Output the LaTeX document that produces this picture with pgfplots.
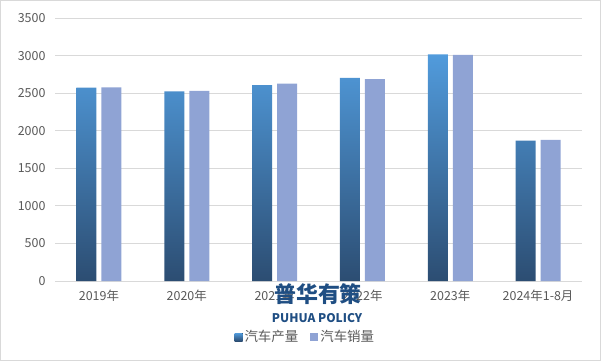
\documentclass[border=0pt]{standalone}
\usepackage{pgfplots}
\pgfplotsset{compat=1.18}
\usepackage{fontspec}
\setmainfont{Noto Sans CJK SC}
\definecolor{tickgray}{HTML}{595959}
\definecolor{gridgray}{HTML}{D9D9D9}
\definecolor{bluetop}{HTML}{519BDC}
\definecolor{bluebot}{HTML}{2C4D72}
\definecolor{lav}{HTML}{8FA3D4}
\definecolor{wm}{HTML}{1F4E83}
\begin{document}
\begin{tikzpicture}[x=1bp,y=1bp]
\useasboundingbox (0,0) rectangle (601,361);
\draw[gridgray,line width=1bp] (0.5,0.5) rectangle (600.5,360.5);
\begin{axis}[
  at={(55bp,80bp)}, anchor=south west,
  width=527bp, height=263bp, scale only axis,
  ymin=0, ymax=3500, ytick distance=500,
  xmin=-0.5, xmax=5.5,
  xtick=data,
  xticklabels={2019年,2020年,2021年,2022年,2023年,2024年1-8月},
  ybar=5bp, bar width=20bp,
  axis line style={draw=none},
  major tick length=0pt,
  ymajorgrids, grid style={gridgray, line width=0.8bp},
  tick label style={text=tickgray, font=\fontsize{12.5}{14}\selectfont},
  /pgf/number format/assume math mode=true,
  /pgf/number format/1000 sep={},
  yticklabel style={xshift=-6bp},
  xticklabel style={yshift=-5bp},
  legend columns=2,
  legend style={draw=none, fill=none, at={(0.475,-0.213)}, anchor=center,
    font=\fontsize{13.5}{15}\selectfont\color{tickgray},
    /tikz/every even column/.append style={column sep=10bp}},
  legend image code/.code={\fill[#1] (0bp,-4bp) rectangle (8bp,4bp);},
]
\addplot[draw=none, top color=bluetop, bottom color=bluebot] coordinates {(0,2572) (1,2523) (2,2608) (3,2702) (4,3016) (5,1868)};
\addplot[draw=none, fill=lav] coordinates {(0,2577) (1,2531) (2,2628) (3,2686) (4,3009) (5,1877)};
\legend{汽车产量,汽车销量}
\end{axis}
\node[text=wm, font=\fontsize{22}{24}\selectfont\bfseries] at (318,67) {普华有策};
\node[text=wm, font=\fontsize{12}{14}\selectfont\bfseries] at (317,43) {PUHUA POLICY};
\end{tikzpicture}
\end{document}
